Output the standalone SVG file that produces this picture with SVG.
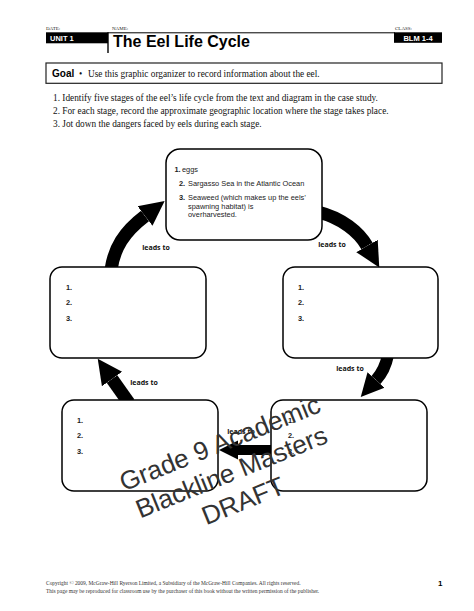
<svg xmlns="http://www.w3.org/2000/svg" width="474" height="611" viewBox="0 0 474 611">
<style>
.hdr{font-family:"Liberation Serif",serif;font-size:5px;fill:#222}
.bar{fill:#000}
.bartxt{font-family:"Liberation Sans",Arial,sans-serif;font-weight:bold;font-size:7.5px;fill:#fff}
.title{font-family:"Liberation Sans",Arial,sans-serif;font-weight:bold;font-size:16px;fill:#000}
.serif{font-family:"Liberation Serif",serif;font-size:9.3px;fill:#111}
.box{fill:#fff;stroke:#000;stroke-width:1.5}
.bt{font-family:"Liberation Sans",Arial,sans-serif;font-size:7.4px;fill:#222}
.num{font-family:"Liberation Sans",Arial,sans-serif;font-size:7.4px;font-weight:bold;fill:#222}
.lead{font-family:"Open Sans",sans-serif;font-size:7px;font-weight:bold;fill:#111;text-anchor:middle}
.shaft{fill:none;stroke:#000;marker-end:url(#head)}
.wm{font-family:"Liberation Sans",Arial,sans-serif;font-size:26px;fill:#333;text-anchor:middle}
.foot{font-family:"Liberation Serif",serif;font-size:5.45px;fill:#333}
</style>
<defs>
<marker id="head" viewBox="0 0 10 10" refX="0" refY="5" markerUnits="strokeWidth" markerWidth="1.9" markerHeight="2.2" orient="auto">
<path d="M0,0 L10,5 L0,10 z" fill="#000"/>
</marker>
</defs>
<rect width="474" height="611" fill="#fff"/>

<g id="header">
<text class="hdr" x="46" y="29.5">DATE:</text>
<text class="hdr" x="112" y="29.5">NAME:</text>
<text class="hdr" x="395" y="29.5">CLASS:</text>
<rect class="bar" x="46" y="32.3" width="62" height="11"/>
<text class="bartxt" x="50" y="40.8">UNIT 1</text>
<line x1="108" y1="32.8" x2="395" y2="32.8" stroke="#000" stroke-width="1"/>
<line x1="108" y1="32.3" x2="108" y2="53" stroke="#000" stroke-width="1.4"/>
<text class="title" x="113" y="47">The Eel Life Cycle</text>
<rect class="bar" x="394" y="32.3" width="48" height="10.5"/>
<text class="bartxt" x="418" y="40.5" text-anchor="middle">BLM 1-4</text>
</g>

<g id="goal">
<rect x="46" y="63" width="396" height="20.3" fill="#fff" stroke="#222" stroke-width="1.2"/>
<text x="52" y="76.5" font-family="Liberation Sans, Arial, sans-serif" font-weight="bold" font-size="10" fill="#000">Goal</text>
<text class="serif" x="79" y="76.5">•</text>
<text class="serif" x="88" y="76.5">Use this graphic organizer to record information about the eel.</text>
</g>

<g id="instructions">
<text class="serif" x="53" y="101">1. Identify five stages of the eel’s life cycle from the text and diagram in the case study.</text>
<text class="serif" x="53" y="114">2. For each stage, record the approximate geographic location where the stage takes place.</text>
<text class="serif" x="53" y="127">3. Jot down the dangers faced by eels during each stage.</text>
</g>

<g id="connectors">
<path class="shaft" stroke-width="13" d="M111 270 C114 248 124 232 145 216"/>
<path class="shaft" stroke-width="13" d="M318 212 C342 218 359 232 367 246"/>
<path class="shaft" stroke-width="12" d="M388 355 Q385 370 376 380"/>
<path class="shaft" stroke-width="10" d="M273 450 L238 450"/>
<path class="shaft" stroke-width="13" d="M129 403 L112 379"/>
<text class="lead" x="156" y="250">leads to</text>
<text class="lead" x="332" y="247">leads to</text>
<text class="lead" x="350" y="371">leads to</text>
<text class="lead" x="241" y="434" font-size="6.3">leads to</text>
<text class="lead" x="144" y="385">leads to</text>
</g>

<g id="stage-top">
<rect class="box" x="166" y="149" width="156" height="91" rx="14"/>
<text class="num" x="174.5" y="171.5">1.</text><text class="bt" x="182" y="171.5">eggs</text>
<text class="num" x="179" y="186">2.</text><text class="bt" x="188" y="186">Sargasso Sea in the Atlantic Ocean</text>
<text class="num" x="179" y="200.3">3.</text><text class="bt" x="188" y="200.3">Seaweed (which makes up the eels’</text>
<text class="bt" x="188" y="208.7">spawning habitat) is</text>
<text class="bt" x="188" y="217.1">overharvested.</text>
</g>

<g id="stage-left">
<rect class="box" x="50" y="267" width="156" height="91" rx="12"/>
<text class="num" x="66" y="289.5">1.</text>
<text class="num" x="66" y="304.5">2.</text>
<text class="num" x="66" y="320.5">3.</text>
</g>

<g id="stage-right">
<rect class="box" x="283" y="267" width="155" height="91" rx="12"/>
<text class="num" x="298" y="289.5">1.</text>
<text class="num" x="298" y="304.5">2.</text>
<text class="num" x="298" y="320.5">3.</text>
</g>

<g id="stage-bottom-left">
<rect class="box" x="62" y="400" width="156" height="91" rx="12"/>
<text class="num" x="77" y="422.5">1.</text>
<text class="num" x="77" y="437.5">2.</text>
<text class="num" x="77" y="453.5">3.</text>
</g>

<g id="stage-bottom-right">
<rect class="box" x="271" y="400" width="156" height="91" rx="12"/>
<text class="num" x="288" y="422.5">1.</text>
<text class="num" x="288" y="437.5">2.</text>
<text class="num" x="288" y="453.5">3.</text>
</g>

<g id="watermark" transform="translate(123,492) rotate(-22)">
<text class="wm" x="108" y="0">Grade 9 Academic</text>
<text class="wm" x="108" y="31">Blackline Masters</text>
<text class="wm" x="108" y="62">DRAFT</text>
</g>

<g id="footer">
<text class="foot" x="46" y="584.5">Copyright © 2009, McGraw-Hill Ryerson Limited, a Subsidiary of the McGraw-Hill Companies. All rights reserved.</text>
<text class="foot" x="46" y="592.5">This page may be reproduced for classroom use by the purchaser of this book without the written permission of the publisher.</text>
<text x="438" y="585.5" font-family="Liberation Sans, Arial, sans-serif" font-weight="bold" font-size="8" fill="#000">1</text>
</g>
</svg>
